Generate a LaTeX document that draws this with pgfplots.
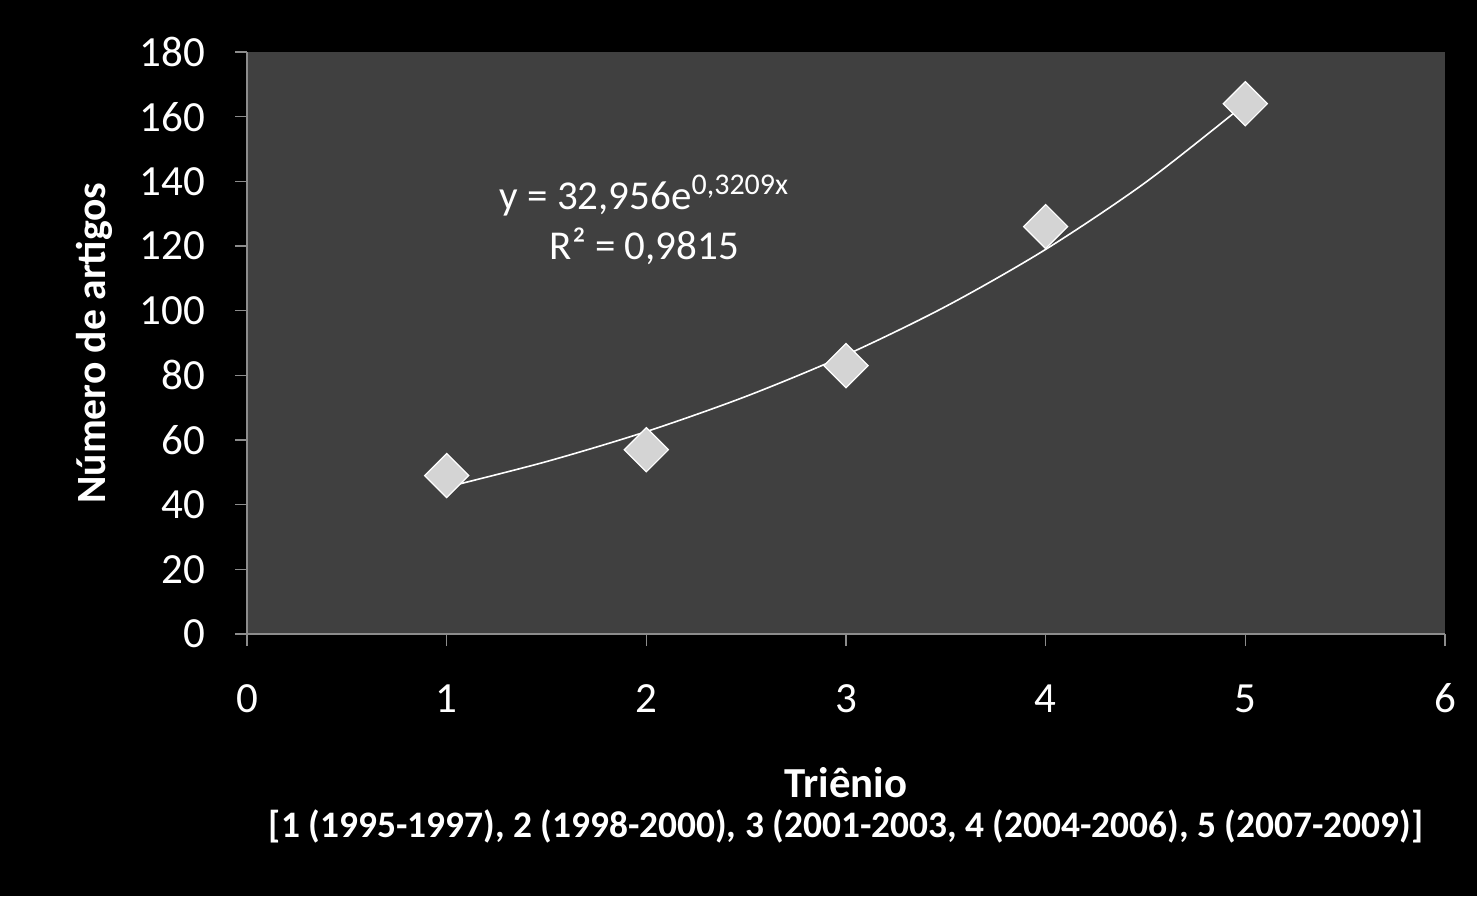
\documentclass[border=0pt]{standalone}
\usepackage{pgfplots}
\pgfplotsset{compat=1.18}
\usepackage{fontspec}
\setmainfont{Carlito}
\definecolor{plotbg}{HTML}{404040}
\definecolor{axgray}{HTML}{8C8C8C}
\definecolor{markfill}{HTML}{D4D4D4}
\begin{document}
\begin{tikzpicture}
\fill[black] (0,0) rectangle (738.5pt,448pt);
\useasboundingbox (0,0) rectangle (738.5pt,448pt);
\begin{axis}[
  at={(123.5pt,131pt)}, anchor=south west,
  scale only axis, width=599pt, height=291pt,
  xmin=0, xmax=6, ymin=0, ymax=180,
  xtick={0,1,2,3,4,5,6}, ytick={0,20,...,180},
  axis background/.style={fill=plotbg},
  axis x line*=bottom, axis y line*=left,
  axis line style={axgray, line width=0.8pt},
  tick style={axgray, line width=0.8pt},
  tick align=outside, major tick length=6pt,
  /pgf/number format/assume math mode=true,
  ticklabel style={font=\fontsize{21.5}{24}\selectfont, text=white},
  xticklabel style={anchor=base, yshift=-33pt},
  yticklabel style={xshift=-11.5pt},
  xlabel={\textbf{Triênio}},
  xlabel style={at={(axis description cs:0.5,0)}, anchor=center, yshift=-74.5pt, text=white, font=\fontsize{21.4}{24}\selectfont},
  ylabel={\textbf{Número de artigos}},
  ylabel style={at={(axis description cs:-0.127,0.5)}, anchor=center, text=white, font=\fontsize{20.8}{24}\selectfont},
  clip=false,
]
\addplot[white, line width=0.8pt, smooth] coordinates {
  (1,45.43) (1.5,53.33) (2,62.61) (2.5,73.51) (3,86.30) (3.5,101.32) (4,118.96) (4.5,139.66) (5,163.97)
};
\addplot[only marks, mark=square*, mark size=7.8pt, mark options={rotate=45, fill=markfill, draw=white, line width=0.6pt}] coordinates {
  (1,49) (2,57) (3,83) (4,126) (5,164)
};
\node[align=center, text=white, font=\fontsize{20.5}{25}\selectfont] at (axis cs:1.99,128)
  {y = 32,956e\textsuperscript{\fontsize{15}{15}\selectfont 0,3209x}\\R² = 0,9815};
\node[text=white, font=\fontsize{18.7}{22}\selectfont\bfseries, anchor=center] at (axis description cs:0.5,0) [yshift=-96pt]
  {[1 (1995-1997), 2 (1998-2000), 3 (2001-2003, 4 (2004-2006), 5 (2007-2009)]};
\end{axis}
\end{tikzpicture}
\end{document}
